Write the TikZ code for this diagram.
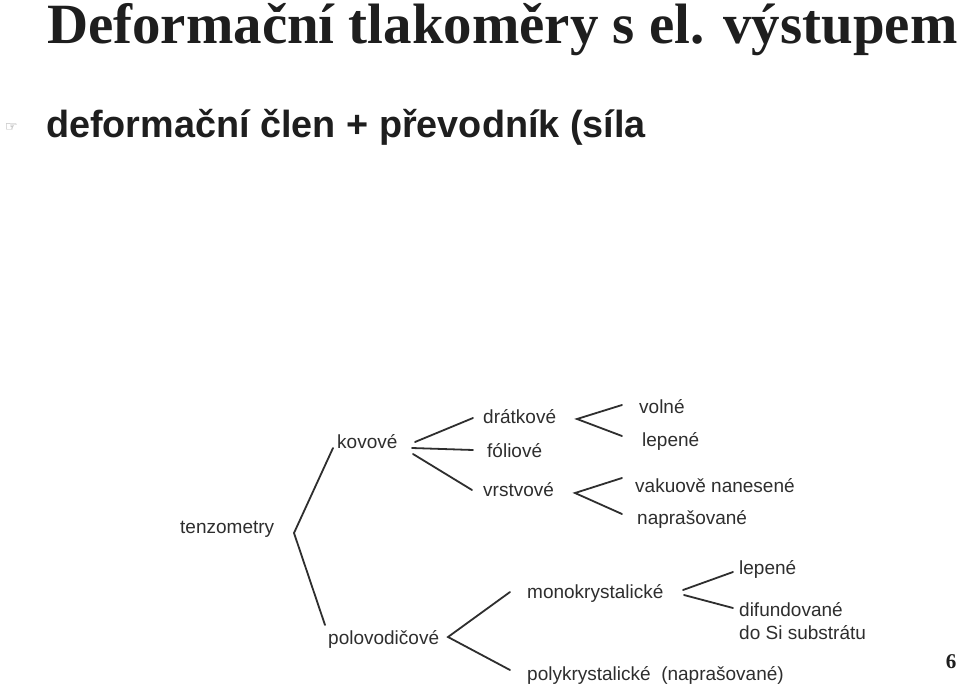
\documentclass[tikz,border=0pt]{standalone}
\usepackage{fontspec}
\setmainfont{Liberation Serif}
\newfontfamily\arialf{Liberation Sans}
\newfontfamily\symf{DejaVu Sans}
\definecolor{ink}{HTML}{1E1E1E}
\definecolor{scan}{HTML}{2E2E2E}
\begin{document}
\begin{tikzpicture}[x=1pt,y=-1pt,
  lbl/.style={anchor=base west,inner sep=0pt,text=scan,font=\arialf\fontsize{19}{23}\selectfont},
  br/.style={draw=scan,line width=1.8pt,line cap=round}]
\useasboundingbox[fill=white] (0,0) rectangle (959,696);
% title
\node[anchor=base west,inner sep=0pt,text=ink,font=\bfseries\fontsize{56.9}{60}\selectfont] (title) at (47,43) {Deformační tlakoměry s el. výstupem};
\node[anchor=base west,inner sep=0pt,text=gray,font=\symf\fontsize{14}{15}\selectfont] (bul) at (5,131) {☞};
\node[anchor=base west,inner sep=0pt,text=ink,font=\arialf\bfseries\fontsize{37.8}{42}\selectfont] (sub) at (46,137) {deformační člen + převodník (síla};
\node[anchor=base,inner sep=0pt,text=ink,font=\bfseries\fontsize{21}{24}\selectfont] (pg) at (951,668) {6};
% labels
\node[lbl] (ten) at (180,533) {tenzometry};
\node[lbl] (kov) at (337,448) {kovové};
\node[lbl] (dra) at (483,423) {drátkové};
\node[lbl] (fol) at (487,457) {fóliové};
\node[lbl] (vrs) at (483,496) {vrstvové};
\node[lbl] (vol) at (639,413) {volné};
\node[lbl] (lep1) at (642,446) {lepené};
\node[lbl] (vak) at (635,492) {vakuově nanesené};
\node[lbl] (nap) at (637,524) {naprašované};
\node[lbl] (pol) at (328,644) {polovodičové};
\node[lbl] (mono) at (527,598) {monokrystalické};
\node[lbl] (poly) at (527,680) {polykrystalické\ \ (naprašované)};
\node[lbl] (lep2) at (739,574) {lepené};
\node[lbl] (dif) at (739,616) {difundované};
\node[lbl] (dosi) at (739,639) {do Si substrátu};
% branch points
\coordinate (tv) at (294,533);
\coordinate (tk) at (333,448);
\coordinate (tp) at (325,625);
\coordinate (ka1) at (415,442); \coordinate (kb1) at (473,418);
\coordinate (ka2) at (412,448); \coordinate (kb2) at (473,450);
\coordinate (ka3) at (413,454); \coordinate (kb3) at (472,490);
\coordinate (dv) at (577,419); \coordinate (d1) at (622,405); \coordinate (d2) at (622,436);
\coordinate (vv) at (575,493); \coordinate (v1) at (622,478); \coordinate (v2) at (622,514);
\coordinate (pv) at (448,637); \coordinate (p1) at (510,592); \coordinate (p2) at (510,670);
\coordinate (mv1) at (683,590); \coordinate (mv2) at (684,595);
\coordinate (m1) at (733,572); \coordinate (m2) at (733,608);
% connectors
\draw[br] (tk) -- (tv) -- (tp);
\draw[br] (ka1) -- (kb1);
\draw[br] (ka2) -- (kb2);
\draw[br] (ka3) -- (kb3);
\draw[br] (d1) -- (dv) -- (d2);
\draw[br] (v1) -- (vv) -- (v2);
\draw[br] (p1) -- (pv) -- (p2);
\draw[br] (mv1) -- (m1);
\draw[br] (mv2) -- (m2);
\end{tikzpicture}
\end{document}
